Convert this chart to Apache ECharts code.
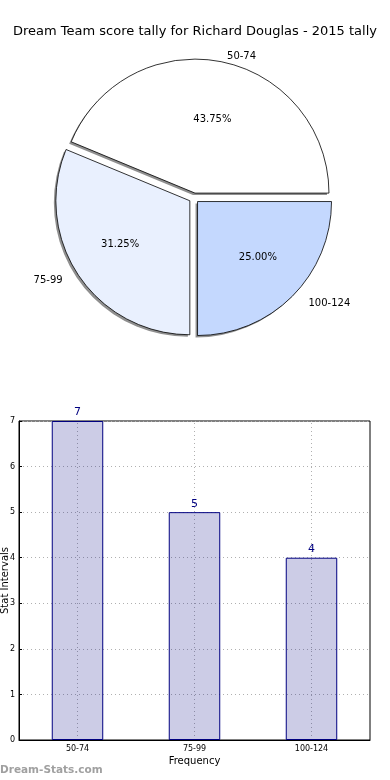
<!DOCTYPE html>
<html>
<head>
<meta charset="utf-8">
<script src="https://cdn.jsdelivr.net/npm/echarts@6/dist/echarts.min.js"></script>
<style>
html,body{margin:0;padding:0;background:#fff;}
#c{width:390px;height:780px;}
</style>
</head>
<body>
<div id="c"></div>
<script>
var titleText = "Dream Team score tally for Richard Douglas - 2015 tally";
var categories = ["50-74", "75-99", "100-124"];
var counts = [7, 5, 4];
var sliceColors = ["#ffffff", "#e9f0fe", "#c4d8fe"];
var yTicks = [0, 1, 2, 3, 4, 5, 6, 7];
var yAxisName = "Stat Intervals";
var xAxisName = "Frequency";
var watermark = "Dream-Stats.com";

var total = counts.reduce(function(a, b){ return a + b; }, 0);
var FONT = "DejaVu Sans";
var R = 134;
var CENTER = [194, 198];
var SH = 2;

function pieData(extra) {
  return categories.map(function(c, i){
    var d = { name: c, value: counts[i], selected: true };
    if (extra) Object.assign(d, extra(i));
    return d;
  });
}

function pieBase(center, radius) {
  return {
    type: 'pie',
    center: center,
    radius: [0, radius],
    startAngle: 0,
    clockwise: false,
    selectedMode: 'multiple',
    selectedOffset: 5,
    avoidLabelOverlap: false,
    labelLine: { show: false },
    emphasis: { disabled: true }
  };
}

var pctPad = [[0, 0, 0, 4], [0, 8, 0, 0], [0, 0, 0, 9]];
var namePad = [[0, 0, 0, 37], [0, 44, 0, 0], [0, 0, 0, 60]];
var pctLH = [8, 12, 12];
var nameLH = [10, 12, 12];

var series = [];
// shadow
var sh = pieBase([CENTER[0] - SH, CENTER[1] + SH], R);
sh.silent = true;
sh.label = { show: false };
sh.itemStyle = { color: '#8f8f8f', borderWidth: 0 };
sh.data = pieData();
sh.z = 1;
series.push(sh);
// main slices
var main = pieBase(CENTER, R);
main.silent = true;
main.label = { show: false };
main.itemStyle = { borderColor: '#000', borderWidth: 0.8 };
main.data = pieData(function(i){ return { itemStyle: { color: sliceColors[i] } }; });
main.z = 2;
series.push(main);
// percent labels
var pct = pieBase(CENTER, 152);
pct.silent = true;
pct.itemStyle = { color: 'rgba(0,0,0,0)', borderWidth: 0 };
pct.label = {
  show: true, position: 'inside', fontFamily: FONT, fontSize: 10, color: '#000',
  formatter: function(p){
    var t = (p.value / total * 100).toFixed(2) + '%';
    return p.dataIndex === 0 ? '\n' + t : t;
  }
};
pct.data = pieData(function(i){ return { label: { padding: pctPad[i], lineHeight: pctLH[i] } }; });
pct.z = 3;
series.push(pct);
// name labels
var nm = pieBase(CENTER, 282);
nm.silent = true;
nm.itemStyle = { color: 'rgba(0,0,0,0)', borderWidth: 0 };
nm.label = {
  show: true, position: 'inside', fontFamily: FONT, fontSize: 10, color: '#000',
  formatter: function(p){ return p.dataIndex === 0 ? '\n' + p.name : p.name; }
};
nm.data = pieData(function(i){ return { label: { padding: namePad[i], lineHeight: nameLH[i] } }; });
nm.z = 3;
series.push(nm);
// bars
series.push({
  type: 'bar',
  data: counts,
  barWidth: '44%',
  itemStyle: { color: 'rgba(0,0,128,0.2)', borderColor: '#000080', borderWidth: 1 },
  label: { show: true, position: 'top', distance: 3, fontFamily: FONT, fontSize: 11, color: '#000080' },
  emphasis: { disabled: true },
  markLine: {
    silent: true,
    symbol: ['none', 'none'],
    label: { show: false },
    lineStyle: { color: '#b0b0b0', type: [1, 3], width: 1 },
    emphasis: { disabled: true },
    data: categories.map(function(c){ return { xAxis: c }; })
  },
  z: 5
});

var chart = echarts.init(document.getElementById('c'), null, {renderer: 'canvas'});
var option = {
  animation: false,
  backgroundColor: '#ffffff',
  title: {
    text: titleText,
    left: 'center',
    top: 20,
    textStyle: { fontFamily: FONT, fontSize: 13, fontWeight: 'normal', color: '#000' }
  },
  graphic: [{
    type: 'text',
    left: 0,
    top: 765,
    style: { text: watermark, fontFamily: FONT, fontSize: 10.5, fontWeight: 'bold', fill: '#a0a0a0' }
  }],
  grid: {
    left: 19, right: 20, top: 421, bottom: 40,
    outerBoundsMode: 'none',
    containLabel: false,
    show: true, borderColor: '#000', borderWidth: 1, backgroundColor: 'transparent'
  },
  xAxis: {
    type: 'category',
    data: categories,
    name: xAxisName,
    nameLocation: 'middle',
    nameGap: 16,
    nameMoveOverlap: false,
    nameTextStyle: { fontFamily: FONT, fontSize: 10, color: '#000' },
    axisLine: { lineStyle: { color: '#000' } },
    axisTick: { show: false },
    axisLabel: { fontFamily: FONT, fontSize: 8, color: '#000', margin: 5 },
    splitLine: { show: false }
  },
  yAxis: {
    type: 'value',
    min: yTicks[0],
    max: yTicks[yTicks.length - 1],
    interval: 1,
    name: yAxisName,
    nameLocation: 'middle',
    nameGap: 9,
    nameMoveOverlap: false,
    nameTextStyle: { fontFamily: FONT, fontSize: 10, color: '#000' },
    axisLine: { show: true, lineStyle: { color: '#000' } },
    axisTick: { show: true, inside: true, length: 3, lineStyle: { color: '#000' } },
    axisLabel: { fontFamily: FONT, fontSize: 8, color: '#000', margin: 4 },
    splitLine: { show: true, lineStyle: { color: '#b0b0b0', type: [1, 3] } }
  },
  series: series
};
chart.setOption(option);
</script>
</body>
</html>
